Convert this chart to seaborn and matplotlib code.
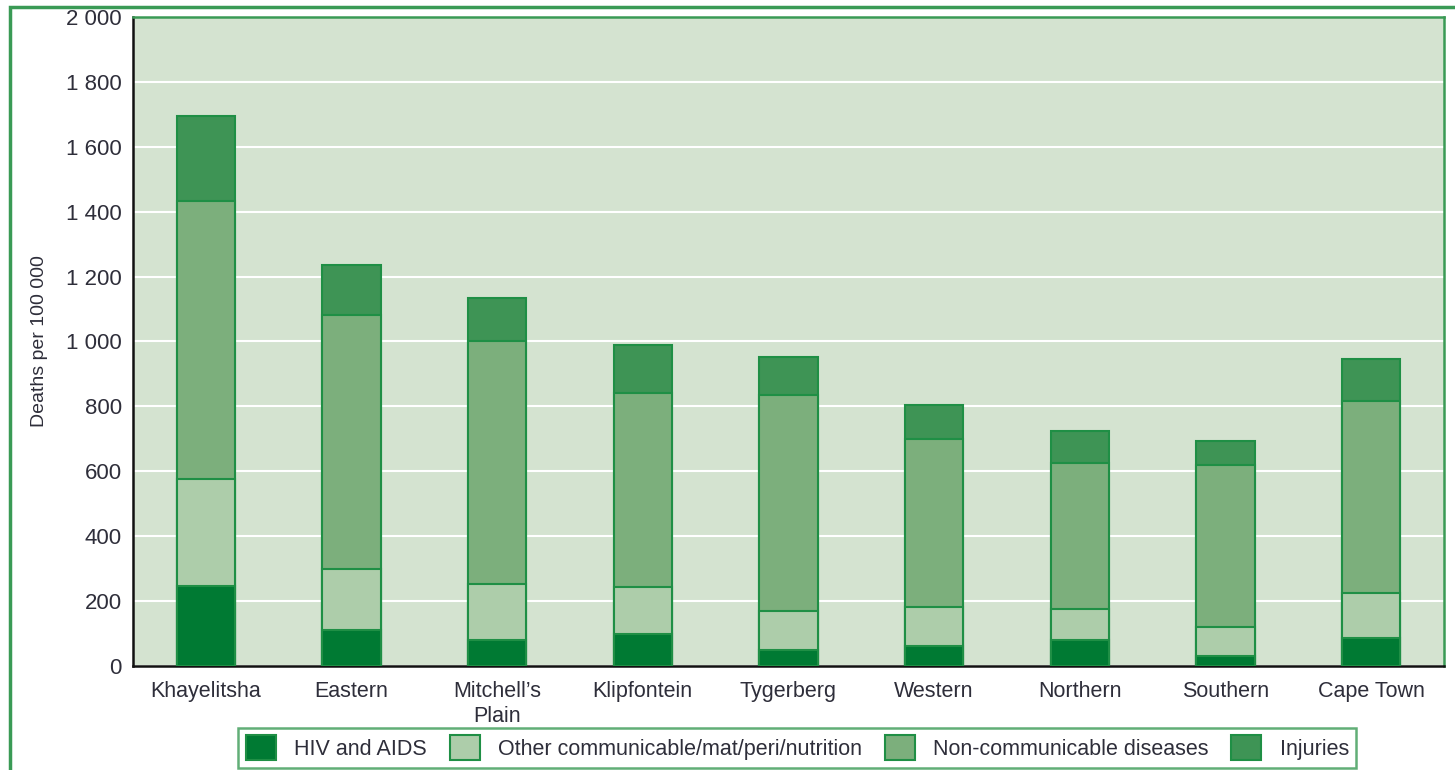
import pandas as pd
import matplotlib.pyplot as plt
import seaborn as sns
from matplotlib.patches import Patch, Rectangle
from matplotlib.ticker import FuncFormatter, FixedLocator

# Data (deaths per 100 000)
districts = ["Khayelitsha", "Eastern", "Mitchell\u2019s\nPlain", "Klipfontein", "Tygerberg",
             "Western", "Northern", "Southern", "Cape Town"]
hiv = [247, 111, 80, 99, 49, 62, 80, 31, 86]
other_comm = [329, 188, 173, 144, 120, 120, 96, 89, 139]
ncd = [857, 783, 749, 598, 666, 518, 450, 499, 592]
injuries = [262, 154, 132, 148, 117, 104, 98, 74, 129]

causes = ["HIV and AIDS", "Other communicable/mat/peri/nutrition",
          "Non-communicable diseases", "Injuries"]
colors = ["#007a33", "#adcdaa", "#7caf7c", "#3e9455"]
edge = "#1f8f45"
text_col = "#2e2e3a"

df = pd.DataFrame({"District": districts, causes[0]: hiv, causes[1]: other_comm,
                   causes[2]: ncd, causes[3]: injuries})
cum = df[causes].cumsum(axis=1)
cum["District"] = df["District"]

sns.set_theme(style="white")
plt.rcParams["font.family"] = ["Liberation Sans", "DejaVu Sans"]

fig = plt.figure(figsize=(14.55, 7.7), dpi=100)
ax = fig.add_axes([0.0914, 0.135, 0.9010, 0.843])
ax.set_facecolor("#d4e3d0")

# stacked bars: draw cumulative totals from the top layer down
for cause, col in zip(causes[::-1], colors[::-1]):
    sns.barplot(data=cum, x="District", y=cause, color=col, width=0.4,
                edgecolor=edge, linewidth=1.5, saturation=1, ax=ax, zorder=3)

ax.set_ylim(0, 2000)
ax.set_xlim(-0.5, len(districts) - 0.5)
ax.set_yticks(range(0, 2001, 200))
ax.yaxis.set_major_formatter(FuncFormatter(lambda v, p: f"{int(v):,}".replace(",", " ")))
ax.grid(axis="y", color="white", linewidth=1.5, zorder=0)
ax.set_axisbelow(True)

ax.set_xlabel("")
ax.set_ylabel("Deaths per 100 000", fontsize=14, color=text_col, labelpad=13)
ax.tick_params(axis="y", length=0, labelsize=16, labelcolor=text_col, pad=8)
ax.tick_params(axis="x", which="major", length=0, labelsize=15.5, labelcolor=text_col, pad=11)
ax.xaxis.set_minor_locator(FixedLocator([i - 0.5 for i in range(len(districts) + 1)]))
ax.tick_params(axis="x", which="minor", length=8, width=1.5, color="#222222", direction="out")

for side in ["left", "bottom"]:
    ax.spines[side].set_color("#111111")
    ax.spines[side].set_linewidth(1.8)
for side in ["top", "right"]:
    ax.spines[side].set_color("#3a9a55")
    ax.spines[side].set_linewidth(1.8)

handles = [Patch(facecolor=c, edgecolor=edge, linewidth=1.5, label=l) for c, l in zip(colors, causes)]
leg = fig.legend(handles=handles, loc="center", bbox_to_anchor=(0.548, 0.029), ncol=4,
                 fontsize=15.5, frameon=True, fancybox=False, handlelength=1.4, handleheight=1.4,
                 columnspacing=1.05, handletextpad=0.85, borderpad=0.35, labelcolor=text_col)
leg.get_frame().set_edgecolor("#3a9a55")
leg.get_frame().set_linewidth(1.8)

# outer green frame around the figure
fig.patches.append(Rectangle((10 / 1455, -0.05), 1.05, 0.991 + 0.05, transform=fig.transFigure,
                             fill=False, edgecolor="#3a9a55", linewidth=2.5, zorder=0))

fig.savefig("out.png", dpi=100)
